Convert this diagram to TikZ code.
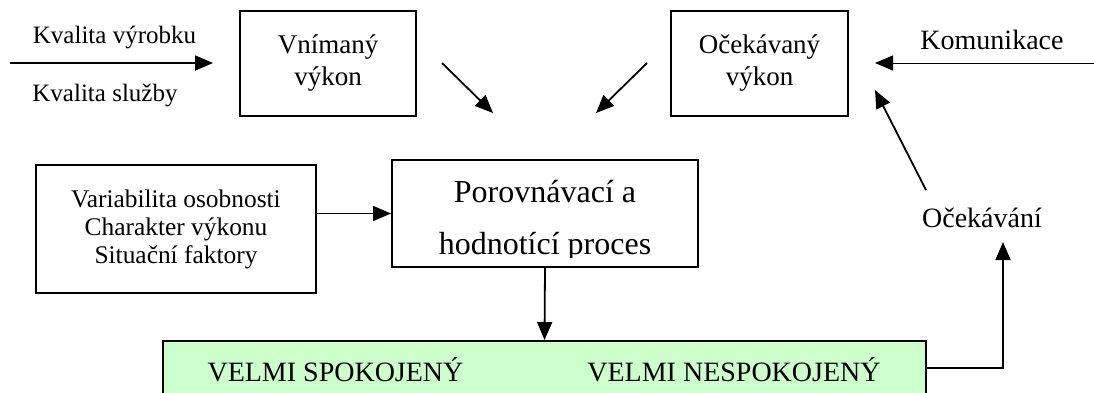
\documentclass[tikz,border=0pt]{standalone}
\usepackage{fontspec}
\setmainfont{Liberation Serif}
\usepackage{tikz}
\usetikzlibrary{arrows.meta, positioning, calc}
\definecolor{spokgreen}{RGB}{204, 255, 204}

\tikzset{
  box/.style={draw, line width=2pt, inner sep=0pt, align=center},
  lbl/.style={inner sep=0pt, align=center},
  arr/.style={line width=1.8pt, -{Triangle[length=18pt, width=15pt]}},
}

\begin{document}
\begin{tikzpicture}[x=1pt, y=-1pt]
  \clip (0,0) rectangle (1094,392);
  \useasboundingbox (0,0) rectangle (1094,392);

  % upper row
  \node[box, minimum width=176pt, minimum height=105pt, font=\fontsize{27}{32}\selectfont] (vnimany) at (328,63) {Vnímaný\\výkon};
  \node[box, minimum width=177pt, minimum height=105pt, font=\fontsize{27}{32}\selectfont] (ocekavany) at (759.5,63) {Očekávaný\\výkon};

  \node[lbl, font=\fontsize{25}{30}\selectfont] (vyrobek) at (114.5,38) {Kvalita výrobku};
  \node[lbl, font=\fontsize{25}{30}\selectfont] (sluzba) at (105,95) {Kvalita služby};
  \node[lbl, font=\fontsize{28}{32}\selectfont] (komunikace) at (992,40) {Komunikace};
  \node[lbl, font=\fontsize{28}{32}\selectfont] (ocekavani) at (982,218) {Očekávání};

  \coordinate (kv-start) at (10,63);
  \coordinate (kv-end) at (213,63);
  \coordinate (kom-start) at (1094,63);
  \coordinate (kom-end) at (875,63);
  \coordinate (d1-start) at (442,63);
  \coordinate (d1-end) at (493,113);
  \coordinate (d2-start) at (647,63);
  \coordinate (d2-end) at (596,113);
  \coordinate (oc-start) at (926,190);
  \coordinate (oc-end) at (875,90);
  \coordinate (oc-in) at (1003,242);

  % middle row
  \node[box, minimum width=280pt, minimum height=128pt, font=\fontsize{25.4}{28}\selectfont] (vlivy) at (176,229)
    {Variabilita osobnosti\\Charakter výkonu\\Situační faktory};
  \node[box, minimum width=306pt, minimum height=107pt] (proces) at (545,213.5) {};
  \begin{scope}
    \clip (proces.north west) rectangle ($(proces.south east)+(0,-11)$);
    \node[lbl, font=\fontsize{32}{36}\selectfont] (proces-a) at (545,192) {Porovnávací a};
    \node[lbl, font=\fontsize{32}{36}\selectfont] (proces-b) at (545,247) {hodnotící proces};
  \end{scope}

  % lower row
  \node[box, fill=spokgreen, minimum width=763pt, minimum height=54pt] (vysledek) at (544.5,368) {};
  \node[lbl, font=\fontsize{28}{32}\selectfont] (spokojeny) at (335.5,370) {VELMI SPOKOJENÝ};
  \node[lbl, font=\fontsize{28}{32}\selectfont] (nespokojeny) at (734,370) {VELMI NESPOKOJENÝ};

  % arrows
  \draw[arr] (kv-start) -- (kv-end);
  \draw[arr, line width=1pt] (kom-start) -- (kom-end);
  \draw[arr] (d1-start) -- (d1-end);
  \draw[arr] (d2-start) -- (d2-end);
  \draw[arr] (oc-start) -- (oc-end);
  \draw[arr] (vlivy.east |- proces.west) -- (proces.west);
  \draw[arr] (proces.south) -- (vysledek.north);
  \draw[arr] (vysledek.east) -| (oc-in);
\end{tikzpicture}
\end{document}
